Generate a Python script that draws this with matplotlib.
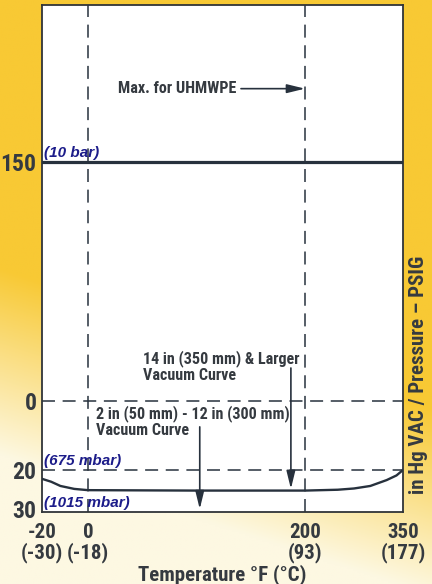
import numpy as np
import matplotlib
matplotlib.use("Agg")
import matplotlib.pyplot as plt
from matplotlib import font_manager as fm
from matplotlib.transforms import ScaledTranslation

# ---- data ----
temp_ticks_f = [-20, 0, 200, 350]
temp_ticks_c = [-30, -18, 93, 177]
y_tick_values = [150, 0, -20, -30]          # psig positive, in Hg vacuum negative
y_tick_labels = ["150", "0", "20", "30"]

curve_temp = [-20, -16, -12, -6, 0, 100, 200, 250, 275, 300, 325, 340, 350]
curve_inhg = [22.1, 22.8, 23.8, 24.5, 24.8, 24.9, 24.9, 24.7, 24.4, 23.8, 22.4, 21.3, 20.0]

max_pressure_psig = 150
uhmwpe_max_temp = 200

# ---- font choice: a condensed bold face if available ----
names = {f.name for f in fm.fontManager.ttflist}
if "Liberation Sans Narrow" in names:
    COND = dict(family=["Liberation Sans Narrow", "DejaVu Sans"])
    SCALE = 1.0
elif "Roboto Condensed" in names:
    COND = dict(family=["Roboto Condensed", "DejaVu Sans"])
    SCALE = 1.0
elif "DejaVu Sans Condensed" in names:
    COND = dict(family=["DejaVu Sans Condensed", "DejaVu Sans"])
    SCALE = 0.92
else:
    COND = dict(family=["Liberation Sans", "DejaVu Sans"])
    SCALE = 0.86

# ---- layout helpers (piecewise axis scales) ----
xk = np.array([-20, 0, 200, 350], float)
xp = np.array([0, 46, 263, 361], float)
yk = np.array([-30, -20, 0, 1000], float)
yp = np.array([0, 42, 111, 111 + 1000 * 239 / 150], float)

def xf(v):
    return np.interp(v, xk, xp)
def xi(p):
    return np.interp(p, xp, xk)
def yf(v):
    return np.interp(v, yk, yp)
def yi(p):
    return np.interp(p, yp, yk)

W, H = 432, 584
fig = plt.figure(figsize=(W / 100, H / 100), dpi=100)

# background gradient
bg = fig.add_axes([0, 0, 1, 1], zorder=-10)
xx, yy = np.meshgrid(np.linspace(0, 1, 200), np.linspace(0, 1, 300))
w = np.clip(0.5 - (yy - (0.62 + 0.24 * xx)) / 0.32, 0, 1)[..., None]
yellow = np.array([248, 201, 52]) / 255
cream = np.array([253, 248, 226]) / 255
img = w * yellow + (1 - w) * cream
bg.imshow(img, aspect="auto", extent=[0, 1, 0, 1], origin="upper")
bg.axis("off")

ax = fig.add_axes([42 / W, (H - 512) / H, 361 / W, 507 / H])
ax.set_facecolor("white")
ax.set_xscale("function", functions=(xf, xi))
ax.set_yscale("function", functions=(yf, yi))
ax.set_xlim(-20, 350)
ax.set_ylim(-30, 248.5)

line_col = "#27313d"
text_col = "#353a40"
blue = "#1c1c8a"

for s in ax.spines.values():
    s.set_color("#303438")
    s.set_linewidth(1.3)

# dashed reference lines
for xv in [0, uhmwpe_max_temp]:
    ax.axvline(xv, color=line_col, lw=1.1, dashes=(8.5, 5), zorder=2)
for yv in [0, -20]:
    ax.axhline(yv, color=line_col, lw=1.1, dashes=(8.5, 5), zorder=2)

# max pressure line
ax.axhline(max_pressure_psig, color=line_col, lw=2.3, zorder=3)

# vacuum curve
ax.plot(curve_temp, [-v for v in curve_inhg], color=line_col, lw=1.7, zorder=3)

# ticks
ax.set_xticks(temp_ticks_f)
ax.set_xticklabels([f"{f}\n({c})" for f, c in zip(temp_ticks_f, temp_ticks_c)],
                   weight="bold", fontsize=15 * SCALE, color=text_col,
                   linespacing=1.0, **COND)
ax.set_yticks(y_tick_values)
ylabels = ax.set_yticklabels(y_tick_labels, weight="bold", fontsize=17 * SCALE,
                             color=text_col, **COND)
ax.tick_params(axis="y", length=0, pad=4)
ax.tick_params(axis="x", length=0, pad=8)
ax.minorticks_off()
# lift the bottom "30" label a touch so it clears the x labels
ylabels[-1].set_transform(ylabels[-1].get_transform()
                          + ScaledTranslation(0, 3 / 100, fig.dpi_scale_trans))

ax.set_xlabel("Temperature \u00b0F (\u00b0C)", weight="bold",
              fontsize=15 * SCALE, color=text_col, labelpad=1, **COND)
fig.text(418 / W, 1 - 375 / H, "in Hg VAC / Pressure \u2013 PSIG", rotation=90,
         ha="center", va="center", weight="bold", fontsize=15 * SCALE,
         color=text_col, **COND)

# annotations
ann_kw = dict(weight="bold", fontsize=11.6 * SCALE, color=text_col, **COND)
arrow = dict(arrowstyle="-|>,head_length=0.9,head_width=0.22", color=line_col,
             lw=1.2, mutation_scale=12, shrinkA=0, shrinkB=0)

ax.text(28, 196, "Max. for UHMWPE", ha="left", va="center", **ann_kw)
ax.annotate("", xy=(uhmwpe_max_temp, 196), xytext=(141, 196), arrowprops=arrow)

ax.text(50.7, 21.6, "14 in (350 mm) & Larger\nVacuum Curve", ha="left",
        va="center", linespacing=1.05, **ann_kw)
ax.annotate("", xy=(187, -24.5), xytext=(187, 20.7), arrowprops=arrow)

ax.text(7.4, -5.9, "2 in (50 mm) - 12 in (300 mm)\nVacuum Curve", ha="left",
        va="center", linespacing=1.05, **ann_kw)
ax.annotate("", xy=(103, -29.3), xytext=(103, -7.5), arrowprops=arrow)

blue_kw = dict(family=["Liberation Sans", "DejaVu Sans"], weight="bold",
               style="italic", fontsize=11, color=blue, ha="left", va="bottom")
ax.text(-19.1, 151, "(10 bar)", **blue_kw)
ax.text(-19.1, -19.4, "(675 mbar)", **blue_kw)
ax.text(-19.1, -29.5, "(1015 mbar)", **blue_kw)

fig.savefig("out.png", dpi=100)
